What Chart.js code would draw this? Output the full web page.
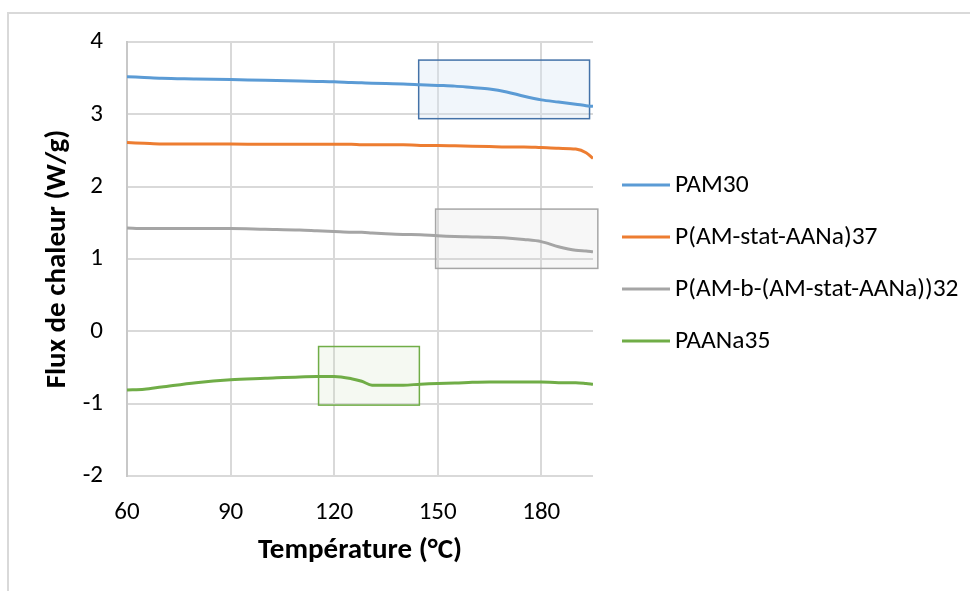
<!DOCTYPE html>
<html>
<head>
<meta charset="utf-8">
<script src="https://cdn.jsdelivr.net/npm/chart.js@4.4.0/dist/chart.umd.min.js"></script>
<style>
    body { margin: 0; background: #fff; }
    #wrap { position: relative; width: 970px; height: 591px; overflow: hidden; }
    #frame { position: absolute; left: 7px; top: 12px; width: 1000px; height: 700px;
             border-top: 2px solid #d9d9d9; border-left: 2px solid #d9d9d9; }
    canvas { position: absolute; left: 0; top: 0; }
</style>
</head>
<body>
<div id="wrap">
    <div id="frame"></div>
    <canvas id="dscChart" width="970" height="591"></canvas>
</div>
<script>
// Température (°C) - shared x values
const temps = [60, 65, 70, 80, 90, 100, 110, 115, 120, 125, 128, 131, 135, 140, 145, 150, 155, 160, 165, 170, 175, 180, 185, 190, 193, 195];

// Flux de chaleur (W/g) per sample
const pam30 = [3.52, 3.51, 3.50, 3.49, 3.48, 3.47, 3.46, 3.455, 3.45, 3.44, 3.435, 3.43, 3.425, 3.42, 3.41, 3.40, 3.39, 3.37, 3.35, 3.31, 3.25, 3.20, 3.17, 3.14, 3.12, 3.11];
const statAANa37 = [2.61, 2.60, 2.59, 2.59, 2.59, 2.585, 2.585, 2.585, 2.585, 2.585, 2.58, 2.58, 2.58, 2.58, 2.57, 2.57, 2.565, 2.56, 2.555, 2.55, 2.55, 2.54, 2.53, 2.52, 2.47, 2.39];
const blockAANa32 = [1.43, 1.42, 1.42, 1.42, 1.42, 1.41, 1.40, 1.39, 1.38, 1.37, 1.37, 1.36, 1.35, 1.34, 1.335, 1.32, 1.31, 1.305, 1.30, 1.29, 1.27, 1.24, 1.17, 1.12, 1.11, 1.10];
const paana35 = [-0.81, -0.80, -0.77, -0.71, -0.67, -0.65, -0.63, -0.625, -0.625, -0.655, -0.69, -0.745, -0.745, -0.745, -0.73, -0.72, -0.715, -0.705, -0.70, -0.70, -0.70, -0.70, -0.71, -0.71, -0.72, -0.73];

const seriesLabels = ['PAM30', 'P(AM-stat-AANa)37', 'P(AM-b-(AM-stat-AANa))32', 'PAANa35'];
const seriesValues = [pam30, statAANa37, blockAANa32, paana35];
const seriesColors = ['#5B9BD5', '#ED7D31', '#A5A5A5', '#70AD47'];

// Axis ticks
const xTicks = [60, 90, 120, 150, 180];
const yTicks = [-2, -1, 0, 1, 2, 3, 4];

// Highlighted transition zones: [xFrom, xTo, yFrom, yTo]
const zones = [
    { range: [144.5, 194, 2.94, 3.75], stroke: '#4472A8', fill: 'rgba(214,229,244,0.35)' },
    { range: [149.4, 196.4, 0.87, 1.69], stroke: '#A6A6A6', fill: 'rgba(215,215,215,0.2)' },
    { range: [115.5, 144.7, -1.02, -0.21], stroke: '#70AD47', fill: 'rgba(200,222,185,0.18)' }
];

const FONT = 'Carlito, "Open Sans", sans-serif';

const zonePlugin = {
    id: 'zones',
    beforeDatasetsDraw(chart) {
        const { ctx, scales: { x, y } } = chart;
        ctx.save();
        zones.forEach(z => {
            const [x0, x1, y0, y1] = z.range;
            const left = x.getPixelForValue(x0), right = x.getPixelForValue(x1);
            const top = y.getPixelForValue(y1), bottom = y.getPixelForValue(y0);
            ctx.fillStyle = z.fill;
            ctx.fillRect(left, top, right - left, bottom - top);
            ctx.strokeStyle = z.stroke;
            ctx.lineWidth = 1.5;
            ctx.strokeRect(left, top, right - left, bottom - top);
        });
        ctx.restore();
    }
};

// Legend drawn on the right, Excel style
const legendPlugin = {
    id: 'sideLegend',
    afterDraw(chart) {
        const ctx = chart.ctx;
        const startY = 185, step = 52, lineX = 622, lineW = 48;
        ctx.save();
        ctx.font = '25.5px ' + FONT;
        ctx.textBaseline = 'middle';
        chart.data.datasets.forEach((ds, i) => {
            const yy = startY + i * step;
            ctx.strokeStyle = ds.borderColor;
            ctx.lineWidth = 3;
            ctx.beginPath();
            ctx.moveTo(lineX, yy);
            ctx.lineTo(lineX + lineW, yy);
            ctx.stroke();
            ctx.fillStyle = '#000';
            ctx.fillText(ds.label, lineX + lineW + 5, yy + 1);
        });
        ctx.restore();
    }
};

new Chart(document.getElementById('dscChart'), {
    type: 'line',
    data: {
        datasets: seriesLabels.map((label, i) => ({
            label: label,
            data: temps.map((t, j) => ({ x: t, y: seriesValues[i][j] })),
            borderColor: seriesColors[i],
            borderWidth: 3,
            pointRadius: 0,
            cubicInterpolationMode: 'monotone',
            fill: false
        }))
    },
    options: {
        responsive: false,
        animation: false,
        layout: { padding: { top: 42, right: 377, left: 0, bottom: 0 } },
        plugins: {
            legend: { display: false },
            tooltip: { enabled: false }
        },
        scales: {
            x: {
                type: 'linear',
                min: 60,
                max: 195,
                afterBuildTicks: axis => { axis.ticks = xTicks.map(v => ({ value: v })); },
                afterFit: axis => { axis.height = 115; },
                grid: { color: '#d9d9d9', lineWidth: 2, drawTicks: false },
                border: { display: false },
                ticks: { color: '#000', font: { family: FONT, size: 25 }, padding: 22 },
                title: {
                    display: true,
                    text: 'Température (°C)',
                    color: '#000',
                    font: { family: FONT, size: 29, weight: 'bold' },
                    padding: { top: 0, bottom: 23 }
                }
            },
            y: {
                min: -2,
                max: 4,
                afterBuildTicks: axis => { axis.ticks = yTicks.map(v => ({ value: v })); },
                afterFit: axis => { axis.width = 127; },
                grid: { color: '#d9d9d9', lineWidth: 2, drawTicks: false },
                border: { display: true, color: '#c8c8c8', width: 2 },
                ticks: { color: '#000', font: { family: FONT, size: 25 }, padding: 24 },
                title: {
                    display: true,
                    text: 'Flux de chaleur (W/g)',
                    color: '#000',
                    font: { family: FONT, size: 29, weight: 'bold' },
                    padding: { top: 40, bottom: 0 }
                }
            }
        }
    },
    plugins: [zonePlugin, legendPlugin]
});
</script>
</body>
</html>
